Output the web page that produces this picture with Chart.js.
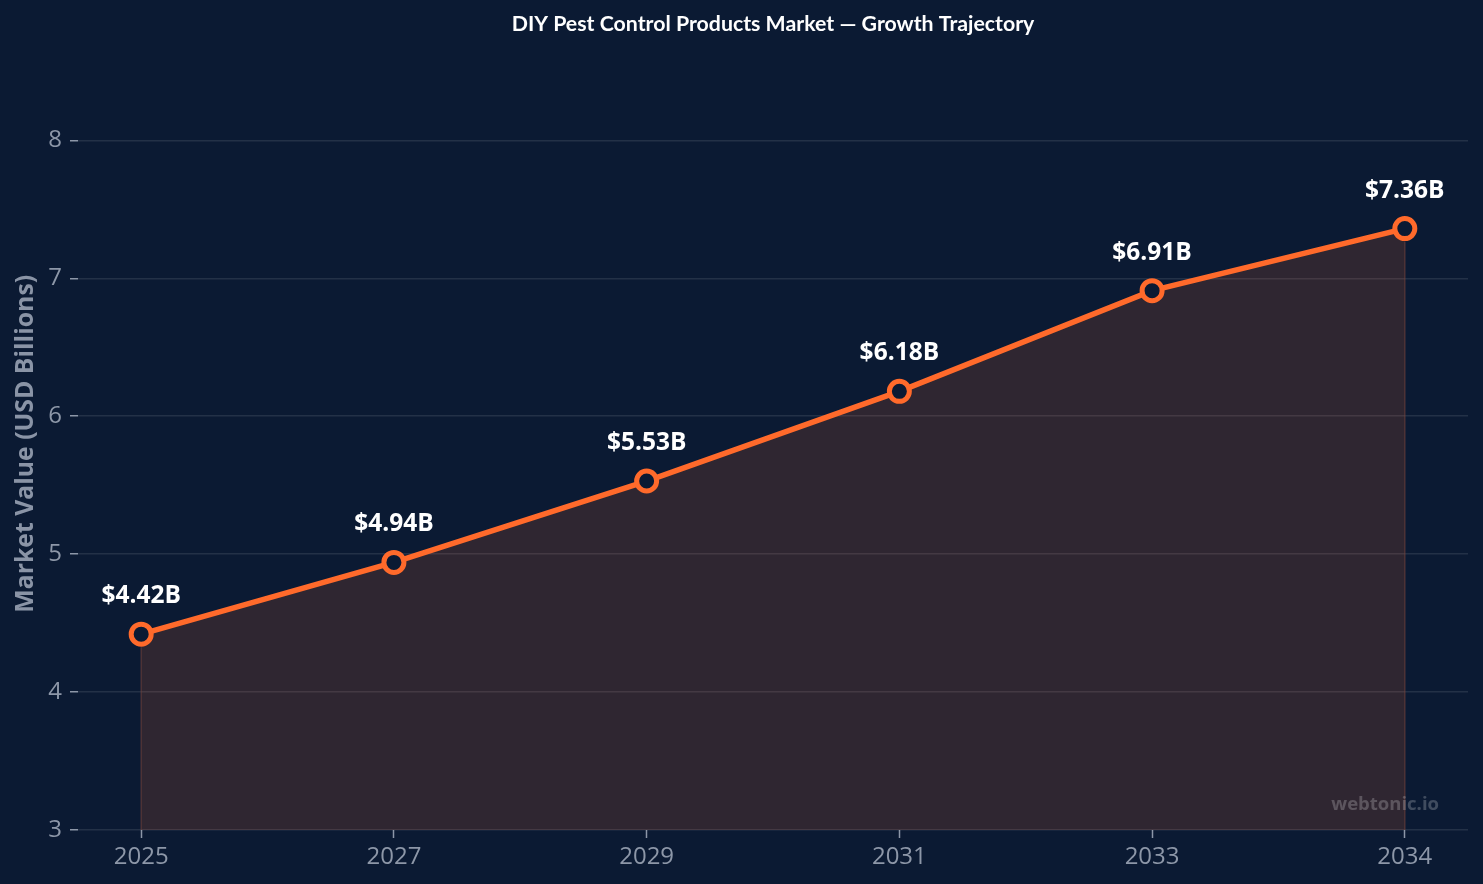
<!DOCTYPE html>
<html>
<head>
<meta charset="utf-8">
<script src="https://cdn.jsdelivr.net/npm/chart.js@4.4.1/dist/chart.umd.min.js"></script>
<style>
    html, body { margin: 0; padding: 0; background: #0b1a33; }
    .chart { width: 1483px; height: 884px; }
</style>
</head>
<body>
<div class="chart"><canvas id="growth"></canvas></div>
<script>
// Data
const years = ["2025", "2027", "2029", "2031", "2033", "2034"];
const marketValue = [4.42, 4.94, 5.53, 6.18, 6.91, 7.36];
const yTicks = [3, 4, 5, 6, 7, 8];

// Colors
const bgColor = "#0b1a33";
const lineColor = "#ff6a2b";
const tickTextColor = "#8d97a8";

// Plugin: value labels, fill edges, watermark
const decorations = {
    id: "decorations",
    afterDatasetsDraw(chart) {
        const ctx = chart.ctx;
        const meta = chart.getDatasetMeta(0);
        const area = chart.chartArea;
        const pts = meta.data;

        ctx.save();
        // fill edges at both ends
        ctx.strokeStyle = "rgba(120,70,60,0.55)";
        ctx.lineWidth = 1.5;
        [pts[0], pts[pts.length - 1]].forEach(p => {
            ctx.beginPath();
            ctx.moveTo(p.x, p.y + 13);
            ctx.lineTo(p.x, area.bottom);
            ctx.stroke();
        });

        // value labels
        ctx.fillStyle = "#ffffff";
        ctx.font = "bold 24.5px 'Open Sans'";
        ctx.textAlign = "center";
        ctx.textBaseline = "middle";
        pts.forEach((p, i) => {
            ctx.fillText("$" + marketValue[i].toFixed(2) + "B", p.x, p.y - 38);
        });

        // watermark
        ctx.fillStyle = "rgba(255,255,255,0.22)";
        ctx.font = "bold 18.5px 'Open Sans'";
        ctx.textAlign = "right";
        ctx.fillText("webtonic.io", area.right - 29, area.bottom - 25);
        ctx.restore();
    }
};

new Chart(document.getElementById("growth"), {
    type: "line",
    data: {
        datasets: [{
            data: marketValue.map((v, i) => ({x: i, y: v})),
            borderColor: lineColor,
            borderWidth: 5.5,
            backgroundColor: "rgba(255,106,43,0.15)",
            fill: "start",
            tension: 0,
            pointRadius: 10,
            pointBorderWidth: 5,
            pointBackgroundColor: bgColor,
            pointBorderColor: lineColor
        }]
    },
    options: {
        responsive: true,
        maintainAspectRatio: false,
        animation: false,
        layout: {padding: {left: 0, right: 15, top: 0, bottom: 0}},
        plugins: {
            legend: {display: false},
            tooltip: {enabled: false},
            title: {
                display: true,
                fullSize: false,
                text: "DIY Pest Control Products Market \u2014 Growth Trajectory",
                color: "#ffffff",
                font: {family: "Lato", weight: "bold", size: 21.3},
                padding: {top: 11, bottom: 21}
            }
        },
        scales: {
            x: {
                type: "linear",
                min: -0.25,
                max: 5.25,
                afterBuildTicks: (axis) => {
                    axis.ticks = years.map((y, i) => ({value: i}));
                },
                afterFit: (axis) => { axis.height = 54; },
                ticks: {
                    color: tickTextColor,
                    font: {family: "Open Sans", size: 24},
                    padding: 5,
                    callback: (v) => years[v]
                },
                grid: {
                    drawOnChartArea: false,
                    drawTicks: true,
                    tickLength: 8,
                    tickColor: tickTextColor,
                    tickWidth: 1.5
                },
                border: {display: false}
            },
            y: {
                min: 3,
                max: 8.6,
                afterBuildTicks: (axis) => {
                    axis.ticks = yTicks.map(v => ({value: v}));
                },
                afterFit: (axis) => { axis.width = 78; },
                ticks: {
                    color: tickTextColor,
                    font: {family: "Open Sans", size: 24},
                    padding: 8
                },
                grid: {
                    color: "rgba(255,255,255,0.1)",
                    lineWidth: 1.5,
                    tickLength: 8,
                    tickColor: tickTextColor,
                    tickWidth: 1.5
                },
                border: {display: false},
                title: {
                    display: true,
                    text: "Market Value (USD Billions)",
                    color: "#8a94a6",
                    font: {family: "Open Sans", weight: "bold", size: 24.8},
                    padding: {top: 11, bottom: 0}
                }
            }
        }
    },
    plugins: [decorations]
});
</script>
</body>
</html>
